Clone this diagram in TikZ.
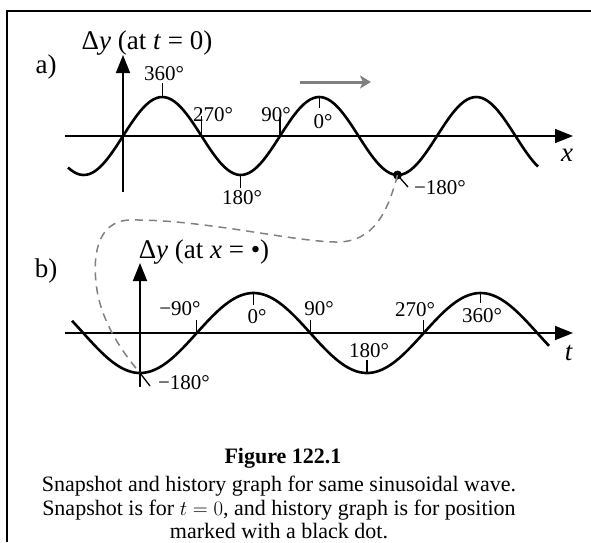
\documentclass[tikz,border=0pt]{standalone}
\usepackage{fontspec}
\setmainfont{Liberation Serif}
\usetikzlibrary{arrows.meta}
\begin{document}
\begin{tikzpicture}[x=1pt,y=-1pt,
  axisline/.style={line width=1.6pt,-{Triangle[length=18pt,width=14pt]}},
  wave/.style={line width=2.6pt},
  tickline/.style={line width=1.3pt},
  lbl/.style={font=\fontsize{21}{24}\selectfont,inner sep=0pt},
  ttl/.style={font=\fontsize{27}{31}\selectfont,inner sep=0pt},
  capt/.style={font=\fontsize{22}{23.5}\selectfont,align=center,inner sep=0pt},
  guide/.style={gray,line width=1.5pt,dash pattern=on 8pt off 6pt},
  frameline/.style={line width=2.4pt}]
\useasboundingbox (0,0) rectangle (591,542);
% frame
\coordinate (f1) at (7,542);
\coordinate (f2) at (7,11);
\coordinate (f3) at (591,11);
\draw[frameline] (f1) -- (f2) -- (f3);

% ---------- graph a ----------
\coordinate (ax0) at (65,136);
\coordinate (ax1) at (573,136);
\coordinate (ay0) at (123,192);
\coordinate (ay1) at (123,55);
\draw[axisline] (ax0) -- (ax1);
\draw[axisline] (ay0) -- (ay1);
\draw[wave] plot[domain=68:538,samples=160,smooth] (\x,{136-39*sin((\x-123)/157*360)});
\node[ttl] (ta) at (147,43) {Δ\textit{y} (at \textit{t} = 0)};
\node[ttl] (la) at (46,67) {a)};
\node[ttl] (xa) at (567,155) {\textit{x}};
% ticks a
\coordinate (pa1) at (162.25,97);  \coordinate (qa1) at (162.25,83);
\coordinate (pa2) at (201.5,136);  \coordinate (qa2) at (201.5,116);
\coordinate (pa3) at (280,136);    \coordinate (qa3) at (280,117);
\coordinate (pa4) at (319.25,97);  \coordinate (qa4) at (319.25,108);
\coordinate (pa5) at (240.75,175); \coordinate (qa5) at (240.75,188);
\draw[tickline] (pa1)--(qa1) (pa2)--(qa2) (pa3)--(qa3) (pa4)--(qa4) (pa5)--(qa5);
\node[lbl] (a360) at (164,74) {360°};
\node[lbl] (a270) at (213,115) {270°};
\node[lbl] (a90) at (276,115) {90°};
\node[lbl] (a0) at (323,122) {0°};
\node[lbl] (a180) at (242,198) {180°};
\node[lbl] (am180) at (440,188) {−180°};
% dot
\node[circle,fill=black,inner sep=0pt,minimum size=9pt] (dot) at (397.5,175) {};
\coordinate (dt) at (408,187);
\draw[tickline] (dot.center) -- (dt);
% direction arrow
\coordinate (g0) at (300,82);
\coordinate (g1) at (371,82);
\draw[gray,line width=3pt,-{Stealth[length=11pt,width=13pt,inset=3pt]}] (g0) -- (g1);

% ---------- graph b ----------
\coordinate (bx0) at (65,333);
\coordinate (bx1) at (573,333);
\coordinate (by0) at (140,387);
\coordinate (by1) at (140,263);
\draw[axisline] (bx0) -- (bx1);
\draw[axisline] (by0) -- (by1);
\draw[wave] plot[domain=72:549,samples=160,smooth] (\x,{333+40*cos((\x-140)/227*360)});
\node[ttl] (tb) at (204,252) {Δ\textit{y} (at \textit{x} = •)};
\node[ttl] (lb) at (46,271) {b)};
\node[ttl] (tt) at (569,353) {\textit{t}};
% ticks b
\coordinate (pb1) at (196.75,333); \coordinate (qb1) at (196.75,320);
\coordinate (pb2) at (253.5,293);  \coordinate (qb2) at (253.5,305);
\coordinate (pb3) at (310.5,333);  \coordinate (qb3) at (310.5,320);
\coordinate (pb4) at (367,373);    \coordinate (qb4) at (367,360);
\coordinate (pb5) at (423.75,333); \coordinate (qb5) at (423.75,320);
\coordinate (pb6) at (480.5,293);  \coordinate (qb6) at (480.5,303);
\draw[tickline] (pb1)--(qb1) (pb2)--(qb2) (pb3)--(qb3) (pb4)--(qb4) (pb5)--(qb5) (pb6)--(qb6);
\coordinate (tr) at (140,373);
\coordinate (trt) at (150,386);
\draw[tickline] (tr) -- (trt);
\node[lbl] (bm90) at (180,309) {−90°};
\node[lbl] (b0) at (257,317) {0°};
\node[lbl] (b90) at (319,309) {90°};
\node[lbl] (b180) at (369,351) {180°};
\node[lbl] (b270) at (415,310) {270°};
\node[lbl] (b360) at (482,316) {360°};
\node[lbl] (bm180) at (184,383) {−180°};

% guide dashed curve
\draw[guide] (dot.center) .. controls (388,210) and (375,243) .. (335,242)
  .. controls (290,241) and (200,219) .. (130,220)
  .. controls (96,221) and (92,258) .. (97,290)
  .. controls (102,322) and (122,352) .. (tr);

% caption
\node[capt,font=\fontsize{22}{24}\selectfont\bfseries] (fig) at (283,458) {Figure 122.1};
\node[capt] (cap) at (279,507.5) {Snapshot and history graph for same sinusoidal wave.\\
Snapshot is for $t=0$, and history graph is for position\\
marked with a black dot.};
\end{tikzpicture}
\end{document}
